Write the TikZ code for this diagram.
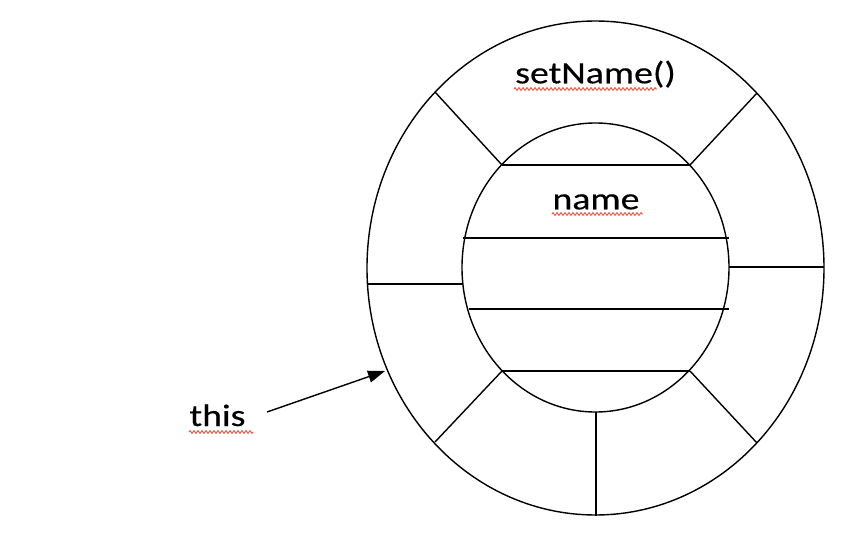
\documentclass[tikz,border=0pt]{standalone}
\usepackage{fontspec}
\setmainfont{Carlito}[FakeStretch=1.22,FakeBold=0.4]
\usetikzlibrary{arrows.meta,decorations.pathmorphing}
\definecolor{spell}{HTML}{E8503C}
\tikzset{
  part/.style={line width=1.4pt},
  lbl/.style={font=\fontsize{31}{37}\selectfont, inner sep=0pt, anchor=base},
  squig/.style={spell, line width=0.9pt, decorate, decoration={zigzag, segment length=4pt, amplitude=1.4pt}},
  pointer/.style={line width=1.4pt, -{Triangle[length=17pt,width=12pt]}}
}
\begin{document}
\begin{tikzpicture}[x=1pt,y=-1pt]
\useasboundingbox (0,0) rectangle (844,538);
% ellipses
\coordinate (co) at (595.5,268);
\coordinate (ci) at (595.5,267.5);
\draw[part] (co) ellipse [x radius=228.5, y radius=247];
\draw[part] (ci) ellipse [x radius=133.5, y radius=144.5];
% inner horizontal lines
\draw[part] (502,165) -- (690,165);
\draw[part] (463,238) -- (729,238);
\draw[part] (469,309) -- (729,309);
\draw[part] (502,371) -- (690,371);
% ring dividers
\draw[part] (435,92) -- (502,165);
\draw[part] (757,93) -- (690,165);
\draw[part] (729,267) -- (824,267);
\draw[part] (367,284) -- (463,284);
\draw[part] (502,371) -- (435,442);
\draw[part] (690,371) -- (757,443);
\draw[part] (596,412) -- (596,515.5);
% labels
\node[lbl] (setname) at (595.5,83.3) {setName()};
\node[lbl] (name) at (596,209.3) {name};
\node[lbl] (this) at (217.5,426) {this};
\draw[squig] (514,89) -- (657,89);
\draw[squig] (552,214) -- (643,214);
\draw[squig] (189,432) -- (253,432);
% arrow
\coordinate (astart) at (267,412);
\coordinate (atip) at (385,371);
\draw[pointer] (astart) -- (atip);
\end{tikzpicture}
\end{document}
